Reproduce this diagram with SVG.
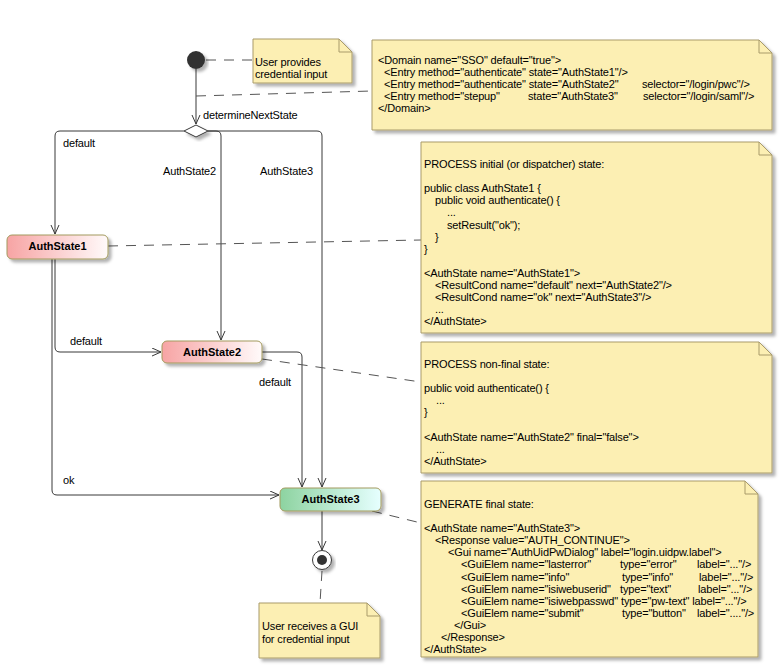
<svg xmlns="http://www.w3.org/2000/svg" width="782" height="667" viewBox="0 0 782 667">
<defs>
<style>
.t{font-family:"Liberation Sans",Arial,sans-serif;font-size:11px;letter-spacing:-0.15px;fill:#000}
.b{font-family:"Liberation Sans",Arial,sans-serif;font-size:11px;font-weight:bold;fill:#000;text-anchor:middle}
.note{fill:#FCEFB3;stroke:#A99B6B;stroke-width:1}
.fold{fill:none;stroke:#A99B6B;stroke-width:1}
.ln{fill:none;stroke:#383838;stroke-width:1}
.dash{fill:none;stroke:#555;stroke-width:1;stroke-dasharray:10,8}
.st{stroke:#A39A5E;stroke-width:1}
</style>
<filter id="sh" x="-10%" y="-10%" width="130%" height="150%">
<feDropShadow dx="3" dy="3" stdDeviation="1.5" flood-color="#000" flood-opacity="0.3"/>
</filter>
<linearGradient id="gp" x1="0" y1="0" x2="1" y2="0">
<stop offset="0" stop-color="#F7A4A4"/><stop offset="1" stop-color="#FFFAFA"/>
</linearGradient>
<linearGradient id="gg" x1="0" y1="0" x2="1" y2="0">
<stop offset="0" stop-color="#8DD3A0"/><stop offset="1" stop-color="#E6FFFF"/>
</linearGradient>
<marker id="ar" markerWidth="10" markerHeight="10" refX="9" refY="4.5" orient="auto" markerUnits="userSpaceOnUse">
<path d="M0,0.5 L9,4.5 L0,8.5" fill="none" stroke="#383838" stroke-width="1"/>
</marker>
</defs>
<rect width="782" height="667" fill="#fff"/>

<g id="connectors">
<path class="ln" d="M196,69 V124" marker-end="url(#ar)"/>
<path class="ln" d="M184,131 H60 Q55,131 55,136 V234" marker-end="url(#ar)"/>
<path class="ln" d="M208,131 H216 Q221,131 221,136 V340" marker-end="url(#ar)"/>
<path class="ln" d="M208,131 H317 Q322,131 322,136 V487" marker-end="url(#ar)"/>
<path class="ln" d="M55,259 V347 Q55,352 60,352 H161" marker-end="url(#ar)"/>
<path class="ln" d="M52,259 V490 Q52,495 57,495 H279" marker-end="url(#ar)"/>
<path class="ln" d="M262,352 H297 Q302,352 302,357 V487" marker-end="url(#ar)"/>
<path class="ln" d="M322,511 V550" marker-end="url(#ar)"/>
<text class="t" x="203" y="119">determineNextState</text>
<text class="t" x="63" y="147">default</text>
<text class="t" x="216" y="175" text-anchor="end">AuthState2</text>
<text class="t" x="313" y="175" text-anchor="end">AuthState3</text>
<text class="t" x="70" y="345">default</text>
<text class="t" x="63" y="484">ok</text>
<text class="t" x="259" y="386">default</text>
<path class="dash" d="M206,60 H253"/>
<path class="dash" d="M196,96 L372,91"/>
<path class="dash" d="M108,246 L421,240"/>
<path class="dash" d="M262,359 L421,382"/>
<path class="dash" d="M372,511 L421,523"/>
<path class="dash" d="M322,571 L320,603"/>
</g>

<g id="start">
<circle cx="196" cy="60" r="9" fill="#333" filter="url(#sh)"/>
</g>

<g id="decision">
<path d="M196,125 L208,131 L196,137 L184,131 Z" fill="#fff" stroke="#383838" filter="url(#sh)"/>
</g>

<g id="authstate1">
<rect class="st" x="7" y="235" width="101" height="24" rx="5" fill="url(#gp)" filter="url(#sh)"/>
<text class="b" x="57.5" y="250">AuthState1</text>
</g>

<g id="authstate2">
<rect class="st" x="162" y="341" width="100" height="22" rx="5" fill="url(#gp)" filter="url(#sh)"/>
<text class="b" x="212" y="356">AuthState2</text>
</g>

<g id="authstate3">
<rect class="st" x="280" y="488" width="101" height="23" rx="5" fill="url(#gg)" filter="url(#sh)"/>
<text class="b" x="330.5" y="503">AuthState3</text>
</g>

<g id="end">
<circle cx="322" cy="560" r="9.5" fill="#fff" stroke="#383838" filter="url(#sh)"/>
<circle cx="322" cy="560" r="5" fill="#333"/>
</g>

<g id="note-user-provides">
<path class="note" d="M253,39 H339 L352,52 V83 H253 Z" filter="url(#sh)"/>
<path class="fold" d="M339,39 V52 H352"/>
<text class="t" x="255" y="66">User provides</text>
<text class="t" x="255" y="78">credential input</text>
</g>

<g id="note-domain">
<path class="note" d="M372,40 H759 L772,53 V130 H372 Z" filter="url(#sh)"/>
<path class="fold" d="M759,40 V53 H772"/>
<text class="t" x="378" y="64">&lt;Domain name="SSO" default="true"&gt;</text>
<text class="t" x="384" y="76">&lt;Entry method="authenticate" state="AuthState1"/&gt;</text>
<text class="t" y="88"><tspan x="384">&lt;Entry method="authenticate" state="AuthState2"</tspan><tspan x="642">selector="/login/pwc"/&gt;</tspan></text>
<text class="t" y="100"><tspan x="384">&lt;Entry method="stepup"</tspan><tspan x="528">state="AuthState3"</tspan><tspan x="643">selector="/login/saml"/&gt;</tspan></text>
<text class="t" x="378" y="112">&lt;/Domain&gt;</text>
</g>

<g id="note-process-initial">
<path class="note" d="M421,142 H759 L772,155 V333 H421 Z" filter="url(#sh)"/>
<path class="fold" d="M759,142 V155 H772"/>
<text class="t" x="424" y="168">PROCESS initial (or dispatcher) state:</text>
<text class="t" x="424" y="192.2">public class AuthState1 {</text>
<text class="t" x="435" y="204.3">public void authenticate() {</text>
<text class="t" x="447" y="216.4">...</text>
<text class="t" x="447" y="228.5">setResult("ok");</text>
<text class="t" x="435" y="240.6">}</text>
<text class="t" x="424" y="252.7">}</text>
<text class="t" x="424" y="276.9">&lt;AuthState name="AuthState1"&gt;</text>
<text class="t" x="435" y="289">&lt;ResultCond name="default" next="AuthState2"/&gt;</text>
<text class="t" x="435" y="301.1">&lt;ResultCond name="ok" next="AuthState3"/&gt;</text>
<text class="t" x="435" y="313.2">...</text>
<text class="t" x="424" y="325.3">&lt;/AuthState&gt;</text>
</g>

<g id="note-process-nonfinal">
<path class="note" d="M421,342 H759 L772,355 V473 H421 Z" filter="url(#sh)"/>
<path class="fold" d="M759,342 V355 H772"/>
<text class="t" x="424" y="368">PROCESS non-final state:</text>
<text class="t" x="424" y="392.2">public void authenticate() {</text>
<text class="t" x="436" y="404.3">...</text>
<text class="t" x="424" y="416.4">}</text>
<text class="t" x="424" y="440.6">&lt;AuthState name="AuthState2" final="false"&gt;</text>
<text class="t" x="436" y="452.7">...</text>
<text class="t" x="424" y="464.8">&lt;/AuthState&gt;</text>
</g>

<g id="note-generate">
<path class="note" d="M421,481 H745 L758,494 V657 H421 Z" filter="url(#sh)"/>
<path class="fold" d="M745,481 V494 H758"/>
<text class="t" x="424" y="508">GENERATE final state:</text>
<text class="t" x="424" y="532.1">&lt;AuthState name="AuthState3"&gt;</text>
<text class="t" x="435" y="544.2">&lt;Response value="AUTH_CONTINUE"&gt;</text>
<text class="t" x="448" y="556.3">&lt;Gui name="AuthUidPwDialog" label="login.uidpw.label"&gt;</text>
<text class="t" y="568.4"><tspan x="461">&lt;GuiElem name="lasterror"</tspan><tspan x="620">type="error"</tspan><tspan x="697">label="..."/&gt;</tspan></text>
<text class="t" y="580.5"><tspan x="461">&lt;GuiElem name="info"</tspan><tspan x="622">type="info"</tspan><tspan x="699">label="..."/&gt;</tspan></text>
<text class="t" y="592.6"><tspan x="461">&lt;GuiElem name="isiwebuserid"</tspan><tspan x="620">type="text"</tspan><tspan x="698">label="..."/&gt;</tspan></text>
<text class="t" x="461" y="604.7">&lt;GuiElem name="isiwebpasswd" type="pw-text" label="..."/&gt;</text>
<text class="t" y="616.8"><tspan x="461">&lt;GuiElem name="submit"</tspan><tspan x="622">type="button"</tspan><tspan x="697">label="...."/&gt;</tspan></text>
<text class="t" x="454" y="628.9">&lt;/Gui&gt;</text>
<text class="t" x="441" y="641">&lt;/Response&gt;</text>
<text class="t" x="424" y="653.1">&lt;/AuthState&gt;</text>
</g>

<g id="note-user-receives">
<path class="note" d="M259,603 H367 L380,616 V658 H259 Z" filter="url(#sh)"/>
<path class="fold" d="M367,603 V616 H380"/>
<text class="t" x="262" y="630">User receives a GUI</text>
<text class="t" x="262" y="643">for credential input</text>
</g>
</svg>
